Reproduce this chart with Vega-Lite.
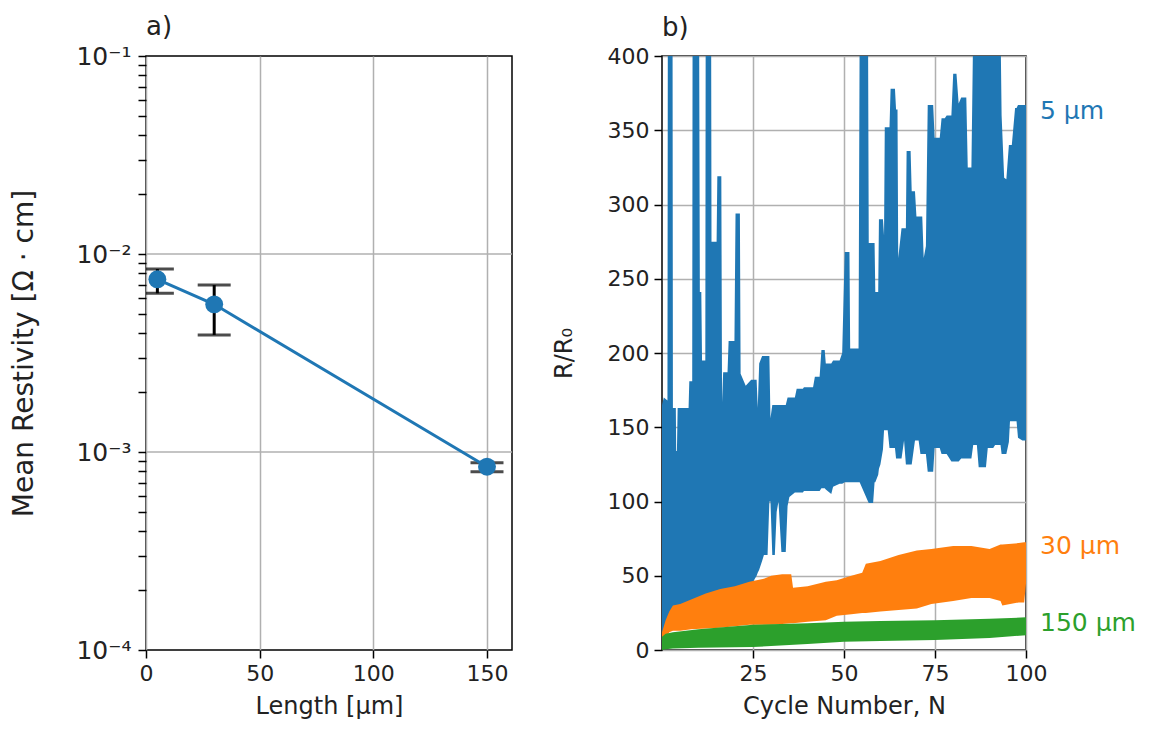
{
  "$schema": "https://vega.github.io/schema/vega-lite/v6.json",
  "padding": {"left": 10, "top": 13, "right": 5, "bottom": 5},
  "config": {
    "font": "DejaVu Sans",
    "view": {"stroke": "#000", "strokeWidth": 1.5},
    "axis": {"domain": false, "tickColor": "#000", "tickWidth": 1.5, "tickSize": 8, "labelFontSize": 22, "labelColor": "#222", "titleFontSize": 24, "titleFontWeight": "normal", "titleColor": "#222", "gridColor": "#b0b0b0", "gridWidth": 1.5, "labelPadding": 5, "titlePadding": 10, "labelFlush": false, "labelOverlap": false},
    "title": {"fontSize": 26, "fontWeight": "normal", "color": "#222"}
  },
  "datasets": {
    "pts": [
      {"length": 5, "mean": 0.00745, "lo": 0.00633, "hi": 0.0084},
      {"length": 30, "mean": 0.00557, "lo": 0.0039, "hi": 0.00697},
      {"length": 150, "mean": 0.000843, "lo": 0.000794, "hi": 0.000883}
    ],
    "agrid": [{"g": 0.01}, {"g": 0.001}],
    "blue": [
      {"c": 0, "lo": 0, "hi": 165}, {"c": 0.5, "lo": 8, "hi": 170}, {"c": 1.5, "lo": 15, "hi": 168}, {"c": 1.6, "lo": 15, "hi": 420}, {"c": 2.9, "lo": 16, "hi": 420}, {"c": 3.0, "lo": 16, "hi": 163}, {"c": 3.8, "lo": 18, "hi": 163}, {"c": 3.9, "lo": 18, "hi": 134}, {"c": 4.1, "lo": 18, "hi": 134}, {"c": 4.3, "lo": 18, "hi": 163}, {"c": 7.3, "lo": 22, "hi": 163}, {"c": 7.5, "lo": 22, "hi": 181}, {"c": 8.3, "lo": 24, "hi": 181}, {"c": 8.4, "lo": 24, "hi": 420}, {"c": 10.2, "lo": 26, "hi": 420}, {"c": 10.4, "lo": 26, "hi": 241}, {"c": 10.8, "lo": 26, "hi": 241}, {"c": 11.0, "lo": 27, "hi": 195}, {"c": 11.9, "lo": 28, "hi": 195}, {"c": 12.0, "lo": 28, "hi": 420}, {"c": 13.5, "lo": 30, "hi": 420}, {"c": 13.6, "lo": 30, "hi": 275}, {"c": 15.0, "lo": 31, "hi": 275}, {"c": 15.2, "lo": 31, "hi": 319}, {"c": 16.3, "lo": 32, "hi": 319}, {"c": 16.5, "lo": 32, "hi": 167}, {"c": 16.8, "lo": 33, "hi": 187}, {"c": 18.0, "lo": 34, "hi": 187}, {"c": 18.3, "lo": 34, "hi": 208}, {"c": 19.9, "lo": 36, "hi": 208}, {"c": 20.2, "lo": 36, "hi": 294}, {"c": 21.4, "lo": 37, "hi": 294}, {"c": 21.6, "lo": 37, "hi": 186}, {"c": 23.0, "lo": 40, "hi": 178}, {"c": 24.5, "lo": 44, "hi": 182}, {"c": 26.0, "lo": 50, "hi": 182}, {"c": 26.3, "lo": 52, "hi": 163}, {"c": 26.7, "lo": 54, "hi": 193}, {"c": 27.5, "lo": 60, "hi": 198}, {"c": 28.0, "lo": 64, "hi": 198}, {"c": 29.0, "lo": 64, "hi": 198}, {"c": 29.5, "lo": 100, "hi": 198}, {"c": 29.8, "lo": 100, "hi": 156}, {"c": 30.3, "lo": 64, "hi": 165}, {"c": 31.0, "lo": 64, "hi": 165}, {"c": 31.5, "lo": 93, "hi": 165}, {"c": 32.0, "lo": 100, "hi": 165}, {"c": 32.8, "lo": 66, "hi": 165}, {"c": 34.0, "lo": 66, "hi": 165}, {"c": 34.5, "lo": 97, "hi": 170}, {"c": 35.0, "lo": 103, "hi": 170}, {"c": 36.5, "lo": 106, "hi": 170}, {"c": 37.0, "lo": 106, "hi": 176}, {"c": 38.7, "lo": 106, "hi": 176}, {"c": 39.0, "lo": 107, "hi": 177}, {"c": 41.5, "lo": 107, "hi": 177}, {"c": 42.0, "lo": 107, "hi": 184}, {"c": 43.3, "lo": 107, "hi": 184}, {"c": 43.8, "lo": 109, "hi": 202}, {"c": 44.7, "lo": 109, "hi": 202}, {"c": 45.0, "lo": 108, "hi": 193}, {"c": 46.5, "lo": 105, "hi": 193}, {"c": 47.0, "lo": 110, "hi": 195}, {"c": 48.8, "lo": 112, "hi": 195}, {"c": 49.5, "lo": 112, "hi": 200}, {"c": 50.2, "lo": 113, "hi": 268}, {"c": 51.5, "lo": 113, "hi": 268}, {"c": 51.7, "lo": 113, "hi": 203}, {"c": 54.0, "lo": 113, "hi": 203}, {"c": 54.3, "lo": 113, "hi": 420}, {"c": 56.6, "lo": 100, "hi": 420}, {"c": 56.8, "lo": 99, "hi": 274}, {"c": 58.0, "lo": 99, "hi": 274}, {"c": 58.4, "lo": 113, "hi": 274}, {"c": 58.6, "lo": 113, "hi": 241}, {"c": 59.4, "lo": 118, "hi": 241}, {"c": 59.6, "lo": 122, "hi": 290}, {"c": 60.0, "lo": 125, "hi": 290}, {"c": 60.7, "lo": 135, "hi": 290}, {"c": 61.0, "lo": 148, "hi": 279}, {"c": 61.2, "lo": 148, "hi": 352}, {"c": 62.0, "lo": 148, "hi": 352}, {"c": 62.5, "lo": 136, "hi": 352}, {"c": 62.8, "lo": 136, "hi": 378}, {"c": 64.0, "lo": 136, "hi": 378}, {"c": 64.3, "lo": 129, "hi": 364}, {"c": 64.7, "lo": 129, "hi": 364}, {"c": 64.9, "lo": 129, "hi": 264}, {"c": 65.8, "lo": 129, "hi": 284}, {"c": 66.5, "lo": 141, "hi": 284}, {"c": 67.0, "lo": 125, "hi": 284}, {"c": 67.2, "lo": 125, "hi": 336}, {"c": 68.3, "lo": 125, "hi": 336}, {"c": 68.6, "lo": 125, "hi": 309}, {"c": 69.5, "lo": 141, "hi": 309}, {"c": 69.9, "lo": 141, "hi": 292}, {"c": 70.5, "lo": 141, "hi": 292}, {"c": 71.0, "lo": 132, "hi": 292}, {"c": 71.5, "lo": 132, "hi": 292}, {"c": 71.9, "lo": 132, "hi": 264}, {"c": 72.5, "lo": 132, "hi": 272}, {"c": 73.0, "lo": 120, "hi": 367}, {"c": 74.5, "lo": 120, "hi": 367}, {"c": 74.9, "lo": 136, "hi": 345}, {"c": 76.3, "lo": 136, "hi": 345}, {"c": 76.8, "lo": 132, "hi": 358}, {"c": 77.7, "lo": 132, "hi": 358}, {"c": 78.2, "lo": 132, "hi": 360}, {"c": 79.5, "lo": 127, "hi": 360}, {"c": 80.0, "lo": 127, "hi": 388}, {"c": 80.9, "lo": 127, "hi": 388}, {"c": 81.5, "lo": 127, "hi": 368}, {"c": 82.2, "lo": 129, "hi": 372}, {"c": 83.6, "lo": 129, "hi": 372}, {"c": 84.0, "lo": 129, "hi": 325}, {"c": 85.0, "lo": 129, "hi": 325}, {"c": 85.5, "lo": 138, "hi": 420}, {"c": 86.5, "lo": 138, "hi": 420}, {"c": 87.0, "lo": 123, "hi": 420}, {"c": 89.0, "lo": 123, "hi": 420}, {"c": 89.5, "lo": 136, "hi": 420}, {"c": 91.0, "lo": 136, "hi": 420}, {"c": 91.5, "lo": 138, "hi": 420}, {"c": 93.0, "lo": 138, "hi": 420}, {"c": 93.3, "lo": 132, "hi": 360}, {"c": 94.0, "lo": 132, "hi": 318}, {"c": 94.6, "lo": 132, "hi": 317}, {"c": 95.3, "lo": 140, "hi": 340}, {"c": 95.6, "lo": 154, "hi": 340}, {"c": 96.1, "lo": 154, "hi": 340}, {"c": 97.0, "lo": 154, "hi": 365}, {"c": 97.4, "lo": 154, "hi": 365}, {"c": 97.8, "lo": 143, "hi": 367}, {"c": 99.0, "lo": 141, "hi": 367}, {"c": 100.0, "lo": 141, "hi": 367}
    ],
    "orange": [
      {"c": 0, "lo": 3, "hi": 12}, {"c": 1, "lo": 8, "hi": 20}, {"c": 2, "lo": 12, "hi": 26}, {"c": 3, "lo": 13, "hi": 30}, {"c": 5, "lo": 13, "hi": 31}, {"c": 8, "lo": 14, "hi": 34}, {"c": 12, "lo": 14.5, "hi": 38}, {"c": 16, "lo": 15, "hi": 41}, {"c": 20, "lo": 16, "hi": 43}, {"c": 24, "lo": 17, "hi": 46}, {"c": 28, "lo": 17, "hi": 48}, {"c": 30, "lo": 17, "hi": 50}, {"c": 33, "lo": 17.5, "hi": 51}, {"c": 35.5, "lo": 18, "hi": 51}, {"c": 36, "lo": 18, "hi": 42}, {"c": 40, "lo": 19, "hi": 43}, {"c": 45, "lo": 20, "hi": 46}, {"c": 48, "lo": 23, "hi": 47}, {"c": 52, "lo": 24, "hi": 50}, {"c": 55, "lo": 25, "hi": 52}, {"c": 56, "lo": 25, "hi": 58}, {"c": 60, "lo": 26, "hi": 60}, {"c": 65, "lo": 27, "hi": 64}, {"c": 70, "lo": 28, "hi": 67}, {"c": 74, "lo": 31, "hi": 68}, {"c": 80, "lo": 33, "hi": 70}, {"c": 85, "lo": 35, "hi": 70}, {"c": 90, "lo": 35, "hi": 68}, {"c": 93, "lo": 33, "hi": 71}, {"c": 93.5, "lo": 30, "hi": 71}, {"c": 98, "lo": 32, "hi": 72}, {"c": 99.5, "lo": 32, "hi": 72.5}, {"c": 100, "lo": 45, "hi": 72.5}
    ],
    "green": [
      {"c": 0, "lo": 0, "hi": 9}, {"c": 1, "lo": 0.5, "hi": 11}, {"c": 3, "lo": 1, "hi": 12}, {"c": 10, "lo": 1.5, "hi": 14}, {"c": 25, "lo": 2, "hi": 17}, {"c": 40, "lo": 4, "hi": 18}, {"c": 50, "lo": 5.5, "hi": 19}, {"c": 60, "lo": 6, "hi": 19.5}, {"c": 75, "lo": 6.7, "hi": 20}, {"c": 90, "lo": 8, "hi": 21}, {"c": 100, "lo": 10, "hi": 22}
    ],
    "labels": [
      {"label": "5 μm", "c": 100, "v": 363},
      {"label": "30 μm", "c": 100, "v": 70},
      {"label": "150 μm", "c": 100, "v": 18}
    ]
  },
  "spacing": 37,
  "hconcat": [
    {
      "width": 366,
      "height": 594,
      "title": {"text": "a)", "anchor": "start", "frame": "group", "offset": 4},
      "layer": [
        {
          "data": {"name": "agrid"},
          "mark": {"type": "rule", "color": "#b0b0b0", "strokeWidth": 1.5},
          "encoding": {"y": {"field": "g", "type": "quantitative", "title": "Mean Restivity [Ω · cm]"}}
        },
        {
          "data": {"name": "pts"},
          "mark": {"type": "rule", "color": "#000", "strokeWidth": 3, "clip": true},
          "encoding": {
            "x": {"field": "length", "type": "quantitative", "title": "Length [μm]",
              "scale": {"domain": [0, 161], "nice": false, "zero": false},
              "axis": {"values": [0, 50, 100, 150], "grid": true}},
            "y": {"field": "lo", "type": "quantitative", "title": "Mean Restivity [Ω · cm]",
              "scale": {"type": "log", "domain": [0.0001, 0.1], "nice": false},
              "axis": {
                "values": [0.0001, 0.0002, 0.0003, 0.0004, 0.0005, 0.0006, 0.0007, 0.0008, 0.0009, 0.001, 0.002, 0.003, 0.004, 0.005, 0.006, 0.007, 0.008, 0.009, 0.01, 0.02, 0.03, 0.04, 0.05, 0.06, 0.07, 0.08, 0.09, 0.1],
                "grid": false,
                "labelFontSize": 25,
                "labelPadding": 7,
                "titleFontSize": 28,
                "titlePadding": 37,
                "labelExpr": "abs(log(datum.value)/LN10 - round(log(datum.value)/LN10)) > 0.01 ? '' : (round(log(datum.value)/LN10) == -1 ? '10⁻¹' : round(log(datum.value)/LN10) == -2 ? '10⁻²' : round(log(datum.value)/LN10) == -3 ? '10⁻³' : '10⁻⁴')",
                "encode": {
                  "ticks": {"update": {"x2": {"signal": "abs(log(datum.value)/LN10 - round(log(datum.value)/LN10)) > 0.01 ? -4 : -8"}}}
                }
              }},
            "y2": {"field": "hi"}
          }
        },
        {
          "data": {"name": "pts"},
          "mark": {"type": "tick", "orient": "horizontal", "color": "#000", "size": 33, "thickness": 3, "clip": true},
          "encoding": {
            "x": {"field": "length", "type": "quantitative", "title": "Length [μm]"},
            "y": {"field": "lo", "type": "quantitative", "title": "Mean Restivity [Ω · cm]"}}
        },
        {
          "data": {"name": "pts"},
          "mark": {"type": "tick", "orient": "horizontal", "color": "#000", "size": 33, "thickness": 3, "clip": true},
          "encoding": {
            "x": {"field": "length", "type": "quantitative", "title": "Length [μm]"},
            "y": {"field": "hi", "type": "quantitative", "title": "Mean Restivity [Ω · cm]"}}
        },
        {
          "data": {"name": "pts"},
          "mark": {"type": "line", "color": "#1f77b4", "strokeWidth": 3},
          "encoding": {
            "x": {"field": "length", "type": "quantitative", "title": "Length [μm]"},
            "y": {"field": "mean", "type": "quantitative", "title": "Mean Restivity [Ω · cm]"}}
        },
        {
          "data": {"name": "pts"},
          "mark": {"type": "circle", "color": "#1f77b4", "size": 320, "opacity": 1},
          "encoding": {
            "x": {"field": "length", "type": "quantitative", "title": "Length [μm]"},
            "y": {"field": "mean", "type": "quantitative", "title": "Mean Restivity [Ω · cm]"}}
        }
      ]
    },
    {
      "width": 364,
      "height": 594,
      "title": {"text": "b)", "anchor": "start", "frame": "group", "offset": 4},
      "encoding": {
        "x": {"field": "c", "type": "quantitative", "title": "Cycle Number, N",
          "scale": {"domain": [0, 100], "nice": false},
          "axis": {"values": [25, 50, 75, 100], "grid": true}}
      },
      "layer": [
        {
          "data": {"name": "blue"},
          "mark": {"type": "area", "color": "#1f77b4", "clip": true, "opacity": 1},
          "encoding": {
            "y": {"field": "hi", "type": "quantitative", "title": "R/R₀", "stack": null,
              "scale": {"domain": [0, 400], "nice": false},
              "axis": {"values": [0, 50, 100, 150, 200, 250, 300, 350, 400], "grid": true, "titlePadding": 31}},
            "y2": {"field": "lo"}
          }
        },
        {
          "data": {"name": "orange"},
          "mark": {"type": "area", "color": "#ff7f0e", "clip": true, "opacity": 1},
          "encoding": {
            "y": {"field": "hi", "type": "quantitative", "title": "R/R₀", "stack": null},
            "y2": {"field": "lo"}
          }
        },
        {
          "data": {"name": "green"},
          "mark": {"type": "area", "color": "#2ca02c", "clip": true, "opacity": 1},
          "encoding": {
            "y": {"field": "hi", "type": "quantitative", "title": "R/R₀", "stack": null},
            "y2": {"field": "lo"}
          }
        },
        {
          "data": {"name": "labels"},
          "mark": {"type": "text", "align": "left", "baseline": "middle", "dx": 14, "fontSize": 25},
          "encoding": {
            "y": {"field": "v", "type": "quantitative", "title": "R/R₀"},
            "text": {"field": "label"},
            "color": {"field": "label", "type": "nominal", "legend": null,
              "scale": {"domain": ["5 μm", "30 μm", "150 μm"], "range": ["#1f77b4", "#ff7f0e", "#2ca02c"]}}
          }
        }
      ]
    }
  ]
}
